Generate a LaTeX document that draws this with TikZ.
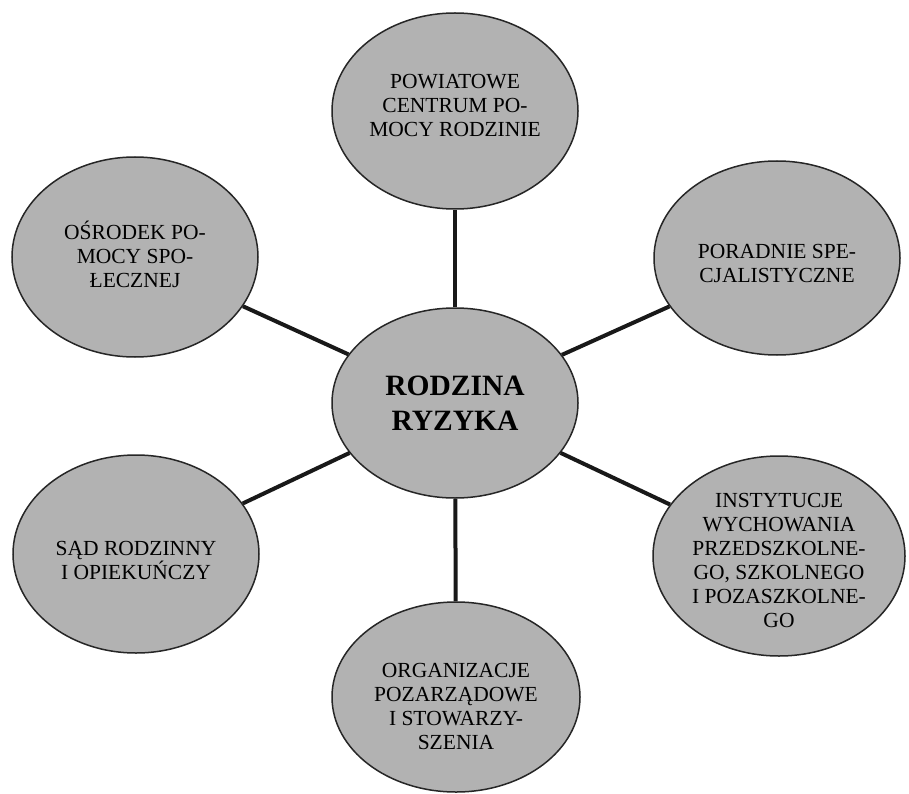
\documentclass[tikz,border=0pt]{standalone}
\usepackage{fontspec}
\setmainfont{Liberation Serif}
\usetikzlibrary{shapes.geometric}
\begin{document}
\begin{tikzpicture}[x=1pt,y=-1pt,
  bubble/.style={ellipse,draw=black!85,line width=1.5pt,fill=black!30,
    minimum width=246pt,minimum height=196pt,inner sep=0pt},
  txt/.style={align=center,inner sep=0pt,font=\fontsize{21.5}{24}\selectfont},
  hubtxt/.style={txt,font=\fontsize{29.5}{35}\selectfont\bfseries},
  link/.style={line width=4pt,black!90}]
\useasboundingbox (0,0) rectangle (909,794);
\fill[white] (0,0) rectangle (909,794);
\node[bubble,minimum height=190pt] (c) at (455,403) {};
\node[bubble] (t) at (455,111) {};
\node[bubble,minimum height=200pt] (lu) at (135,257) {};
\node[bubble,minimum height=194pt] (ru) at (777,258) {};
\node[bubble,minimum height=198pt] (ll) at (136,554) {};
\node[bubble,minimum width=252pt,minimum height=200pt] (rl) at (779,556) {};
\node[bubble,minimum width=248pt,minimum height=190pt] (b) at (456,697) {};
\foreach \n in {t,lu,ru,ll,rl,b} \draw[link] (c) -- (\n);
\node[hubtxt] (ct) at (c.center) {RODZINA\\RYZYKA};
\node[txt] (tt) at (455,105) {POWIATOWE\\CENTRUM PO-\\MOCY RODZINIE};
\node[txt] (lut) at (135,254) {OŚRODEK PO-\\MOCY SPO-\\ŁECZNEJ};
\node[txt] (rut) at (777,263) {PORADNIE SPE-\\CJALISTYCZNE};
\node[txt] (llt) at (136,560) {SĄD RODZINNY\\I OPIEKUŃCZY};
\node[txt] (rlt) at (779,560) {INSTYTUCJE\\WYCHOWANIA\\PRZEDSZKOLNE-\\GO, SZKOLNEGO\\I POZASZKOLNE-\\GO};
\node[txt] (bt) at (456,706) {ORGANIZACJE\\POZARZĄDOWE\\I STOWARZY-\\SZENIA};
\end{tikzpicture}
\end{document}
